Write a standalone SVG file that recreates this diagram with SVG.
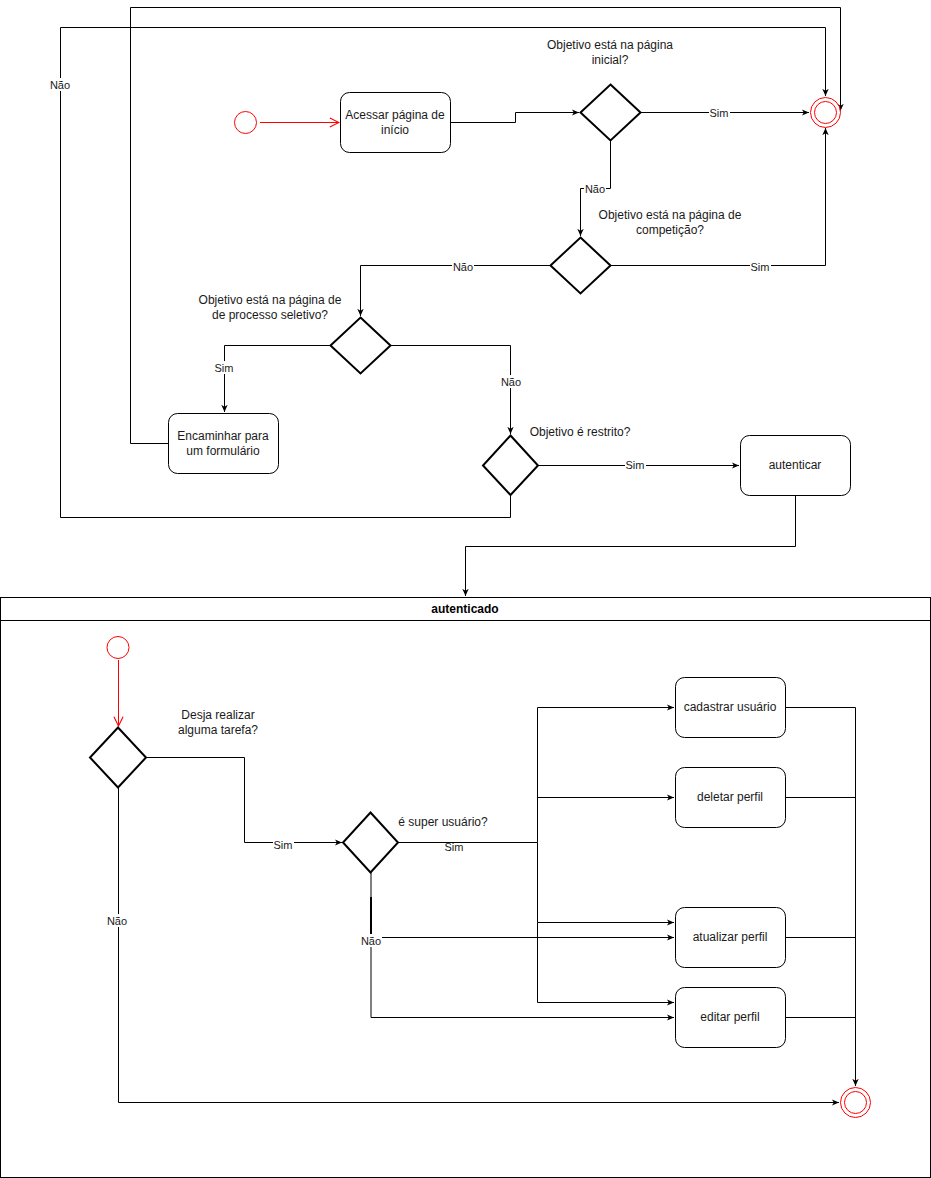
<svg xmlns="http://www.w3.org/2000/svg" width="931" height="1178" viewBox="0 0 931 1178">
<defs>
<marker id="ar" viewBox="0 0 10 10" refX="9" refY="5" markerWidth="8" markerHeight="8" markerUnits="userSpaceOnUse" orient="auto">
<path d="M0,1 L9,5 L0,9 L2.5,5 Z" fill="#000"/>
</marker>
<marker id="open" viewBox="0 0 12 12" refX="11" refY="6" markerWidth="11" markerHeight="11" markerUnits="userSpaceOnUse" orient="auto">
<path d="M1,1 L11,6 L1,11" fill="none" stroke="#f00" stroke-width="1.2"/>
</marker>
<style>
.e{fill:none;stroke:#000;stroke-width:1}
.ea{fill:none;stroke:#000;stroke-width:1;marker-end:url(#ar)}
.red{fill:none;stroke:#f00;stroke-width:1;marker-end:url(#open)}
.box{fill:#fff;stroke:#000;stroke-width:1}
.dia{fill:#fff;stroke:#000;stroke-width:2}
.st{fill:#fff;stroke:#f00;stroke-width:1}
text{font-family:"Liberation Sans",Arial,sans-serif;font-size:12px;fill:#1a1a1a;text-anchor:middle}
.lb{font-size:11px}
.lbg{fill:#fff}
.t{font-weight:bold;fill:#000}
</style>
</defs>
<rect width="931" height="1178" fill="#fff"/>

<g id="container">
<rect x="0.5" y="597.5" width="930" height="580" fill="#fff" stroke="#000"/>
<line x1="0.5" y1="620.5" x2="930.5" y2="620.5" stroke="#000"/>
<text class="t" x="465" y="613">autenticado</text>
</g>

<g id="connectors">
<!-- top -->
<path class="red" d="M260,122.5 H339"/>
<path class="ea" d="M450,122.5 H515.5 V112.5 H579"/>
<path class="ea" d="M640,112.5 H809"/>
<path class="ea" d="M610.5,140 V188.5 H580.5 V236"/>
<path class="ea" d="M610,265.5 H825.5 V128"/>
<path class="ea" d="M550,265.5 H360.5 V316"/>
<path class="ea" d="M330,345.5 H224.5 V412"/>
<path class="ea" d="M390,345.5 H510.5 V434"/>
<path class="ea" d="M538,465.5 H739"/>
<path class="ea" d="M795.5,495 V546.5 H465.5 V596"/>
<path class="ea" d="M168,443.5 H130.5 V7.5 H840.5 V111"/>
<path class="ea" d="M510.5,495 V517.5 H60.5 V27.5 H825.5 V96"/>
<!-- lower -->
<path class="red" d="M118.5,660 V726"/>
<path class="ea" d="M146,757.5 H244.5 V842.5 H342"/>
<path class="ea" d="M118.5,787 V1102.5 H839"/>
<path class="e" d="M398,842.5 H537.5"/>
<path class="ea" d="M537.5,842.5 V707.5 H674"/>
<path class="ea" d="M537.5,797.5 H674"/>
<path class="ea" d="M537.5,842.5 V922.5 H674"/>
<path class="ea" d="M537.5,922.5 V1002.5 H674"/>
<path class="ea" d="M371,872 V1017.5 H674"/>
<path d="M371,897 V937" stroke="#000" stroke-width="2" fill="none"/>
<path class="ea" d="M371,937.5 H674"/>
<path class="ea" d="M785,707.5 H855.5 V1086"/>
<path class="e" d="M785,797.5 H855.5"/>
<path class="e" d="M785,937.5 H855.5"/>
<path class="e" d="M785,1017.5 H855.5"/>
<!-- labels -->
<rect class="lbg" x="49" y="78" width="22" height="13"/><text class="lb" x="60" y="89">Não</text>
<rect class="lbg" x="709" y="107" width="21" height="13"/><text class="lb" x="719" y="117">Sim</text>
<rect class="lbg" x="584" y="182" width="22" height="13"/><text class="lb" x="595" y="193">Não</text>
<rect class="lbg" x="750" y="260" width="21" height="13"/><text class="lb" x="760" y="271">Sim</text>
<rect class="lbg" x="452" y="260" width="22" height="13"/><text class="lb" x="463" y="271">Não</text>
<rect class="lbg" x="214" y="361" width="21" height="13"/><text class="lb" x="224" y="372">Sim</text>
<rect class="lbg" x="500" y="375" width="22" height="13"/><text class="lb" x="511" y="386">Não</text>
<rect class="lbg" x="625" y="459" width="21" height="13"/><text class="lb" x="635" y="469">Sim</text>
<rect class="lbg" x="273" y="838" width="21" height="13"/><text class="lb" x="283" y="849">Sim</text>
<text class="lb" x="454" y="851">Sim</text>
<rect class="lbg" x="106" y="914" width="22" height="13"/><text class="lb" x="117" y="925">Não</text>
<rect class="lbg" x="360" y="934" width="22" height="13"/><text class="lb" x="371" y="945">Não</text>
</g>

<g id="start1"><circle class="st" cx="245.5" cy="122.5" r="11"/></g>
<g id="end1"><circle class="st" cx="825.5" cy="112.5" r="15"/><circle class="st" cx="825.5" cy="112.5" r="11"/></g>

<g id="acessar">
<rect class="box" x="340.5" y="92.5" width="110" height="60" rx="9"/>
<text x="395" y="119">Acessar página de</text>
<text x="395" y="134">início</text>
</g>

<g id="d1">
<path class="dia" d="M610.5,84.5 L640.5,112.5 L610.5,140.5 L580.5,112.5 Z"/>
<text x="610" y="49">Objetivo está na página</text>
<text x="610" y="64">inicial?</text>
</g>

<g id="d2">
<path class="dia" d="M580.5,237.5 L610.5,265.5 L580.5,293.5 L550.5,265.5 Z"/>
<text x="670" y="219">Objetivo está na página de</text>
<text x="670" y="234">competição?</text>
</g>

<g id="d3">
<path class="dia" d="M360.5,317.5 L390.5,345.5 L360.5,373.5 L330.5,345.5 Z"/>
<text x="270" y="304">Objetivo está na página de</text>
<text x="270" y="319">de processo seletivo?</text>
</g>

<g id="encaminhar">
<rect class="box" x="168.5" y="413.5" width="110" height="60" rx="9"/>
<text x="223" y="440">Encaminhar para</text>
<text x="223" y="455">um formulário</text>
</g>

<g id="d4">
<path class="dia" d="M510.5,435.5 L538,465.5 L510.5,495 L483,465.5 Z"/>
<text x="580" y="436">Objetivo é restrito?</text>
</g>

<g id="autenticar">
<rect class="box" x="740.5" y="435.5" width="110" height="60" rx="9"/>
<text x="795" y="469">autenticar</text>
</g>

<g id="start2"><circle class="st" cx="118" cy="647.5" r="11"/></g>

<g id="dA">
<path class="dia" d="M118,727.5 L146,757.5 L118,787.5 L90,757.5 Z"/>
<text x="218" y="719">Desja realizar</text>
<text x="218" y="734">alguma tarefa?</text>
</g>

<g id="dB">
<path class="dia" d="M370.5,812.5 L398,842.5 L370.5,872.5 L343,842.5 Z"/>
<text x="443" y="826">é super usuário?</text>
</g>

<g id="cadastrar">
<rect class="box" x="675.5" y="677.5" width="110" height="60" rx="9"/>
<text x="730" y="711">cadastrar usuário</text>
</g>
<g id="deletar">
<rect class="box" x="675.5" y="767.5" width="110" height="60" rx="9"/>
<text x="730" y="801">deletar perfil</text>
</g>
<g id="atualizar">
<rect class="box" x="675.5" y="907.5" width="110" height="60" rx="9"/>
<text x="730" y="941">atualizar perfil</text>
</g>
<g id="editar">
<rect class="box" x="675.5" y="987.5" width="110" height="60" rx="9"/>
<text x="730" y="1021">editar perfil</text>
</g>

<g id="end2"><circle class="st" cx="855.5" cy="1102.5" r="15"/><circle class="st" cx="855.5" cy="1102.5" r="11"/></g>
</svg>
